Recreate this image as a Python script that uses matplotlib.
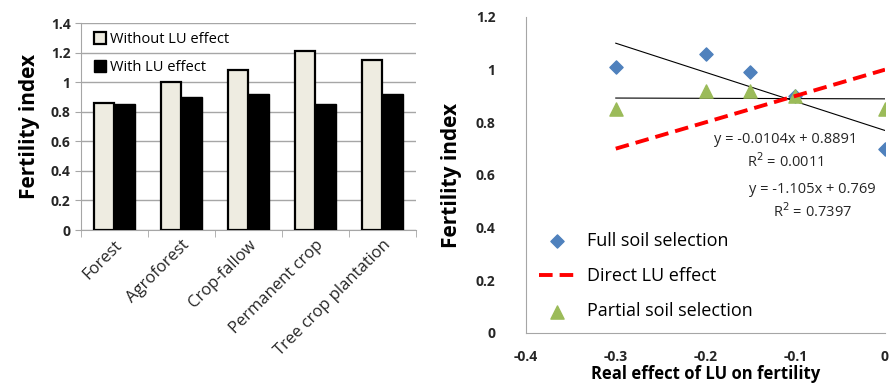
"""
Fertility index by land use (bars) and vs. real LU effect (scatter + trendlines).
"""

import matplotlib
matplotlib.use("Agg")
import matplotlib.pyplot as plt
import numpy as np

plt.rcParams['font.family'] = ['Open Sans', 'DejaVu Sans']

# left panel: fertility index per land use
land_uses = ["Forest", "Agroforest", "Crop-fallow", "Permanent crop", "Tree crop plantation"]
without_lu = [0.86, 1.00, 1.08, 1.21, 1.15]
with_lu = [0.85, 0.90, 0.92, 0.85, 0.92]

# right panel: fertility index vs. real LU effect
real_effect = [-0.3, -0.2, -0.15, -0.1, 0.0]
full_selection = [1.01, 1.06, 0.99, 0.90, 0.70]
partial_selection = [0.85, 0.92, 0.92, 0.90, 0.85]
direct_effect_x = [-0.3, 0.0]
direct_effect_y = [0.70, 1.00]

# trendline coefficients as printed on the chart (slope, intercept)
fit_full = (-1.105, 0.769)
fit_partial = (-0.0104, 0.8891)

AXIS_GRAY = '#a6a6a6'
TICK_COLOR = '#262626'

fig = plt.figure(figsize=(8.89, 3.88), dpi=100)

# ---------------- left: grouped bars ----------------
ax1 = fig.add_axes([0.0911, 0.4072, 0.3768, 0.5335])
idx = np.arange(len(land_uses))
w = 0.30
ax1.bar(idx - w / 2, without_lu, w, color='#eeece1', edgecolor='black',
        linewidth=1.6, label='Without LU effect', zorder=3)
ax1.bar(idx + w / 2, with_lu, w, color='black', edgecolor='black',
        linewidth=1.0, label='With LU effect', zorder=3)
ax1.set_xlim(-0.5, len(land_uses) - 0.5)
ax1.set_ylim(0, 1.4)
ax1.set_yticks(np.arange(0, 1.41, 0.2))
ax1.set_yticklabels(['0', '0.2', '0.4', '0.6', '0.8', '1', '1.2', '1.4'])
ax1.yaxis.grid(True, color=AXIS_GRAY, linewidth=1.0, zorder=0)
ax1.set_axisbelow(True)
for s in ['top', 'right']:
    ax1.spines[s].set_visible(False)
for s in ['left', 'bottom']:
    ax1.spines[s].set_color(AXIS_GRAY)
ax1.set_xticks(idx)
ax1.set_xticklabels(land_uses, rotation=45, ha='right', rotation_mode='anchor',
                    fontsize=12, color=TICK_COLOR)
ax1.tick_params(axis='x', length=0, pad=5)
ax1.set_xticks(np.arange(-0.5, len(land_uses)), minor=True)
ax1.tick_params(axis='x', which='minor', length=5, color=AXIS_GRAY)
ax1.tick_params(axis='y', length=4, color=AXIS_GRAY, labelsize=10,
                labelcolor=TICK_COLOR)
for lab in ax1.get_yticklabels():
    lab.set_fontweight('bold')
ax1.set_ylabel('Fertility index', fontsize=15, fontweight='bold', labelpad=8)
ax1.legend(loc='upper left', bbox_to_anchor=(0.0, 1.02), frameon=False,
           fontsize=10.5, handlelength=0.8, handleheight=0.8, handletextpad=0.3,
           labelspacing=0.9)

# ---------------- right: scatter with trendlines ----------------
ax2 = fig.add_axes([0.5917, 0.1418, 0.4038, 0.8144])
xs = np.array([min(real_effect), max(real_effect)])
ax2.plot(xs, fit_full[0] * xs + fit_full[1], color='black', linewidth=0.8, zorder=2)
ax2.plot(xs, fit_partial[0] * xs + fit_partial[1], color='black', linewidth=0.8, zorder=2)
ax2.scatter(real_effect, full_selection, marker='D', s=45, color='#4f81bd',
            label='Full soil selection', zorder=3)
ax2.plot(direct_effect_x, direct_effect_y, color='#ff0000', linestyle=(0, (3.5, 1.8)),
         linewidth=2.8, label='Direct LU effect', zorder=4)
ax2.scatter(real_effect, partial_selection, marker='^', s=90, color='#9bbb59',
            label='Partial soil selection', zorder=3)
ax2.set_xlim(-0.4, 0)
ax2.set_ylim(0, 1.2)
ax2.set_xticks([-0.4, -0.3, -0.2, -0.1, 0])
ax2.set_xticklabels(['-0.4', '-0.3', '-0.2', '-0.1', '0'])
ax2.set_yticks(np.arange(0, 1.21, 0.2))
ax2.set_yticklabels(['0', '0.2', '0.4', '0.6', '0.8', '1', '1.2'])
for s in ['top', 'right']:
    ax2.spines[s].set_visible(False)
for s in ['left', 'bottom']:
    ax2.spines[s].set_color(AXIS_GRAY)
ax2.tick_params(length=0, labelsize=10, labelcolor=TICK_COLOR)
ax2.tick_params(axis='y', pad=22)
ax2.tick_params(axis='x', pad=12)
for lab in ax2.get_xticklabels() + ax2.get_yticklabels():
    lab.set_fontweight('bold')
ax2.set_ylabel('Fertility index', fontsize=15, fontweight='bold', labelpad=10)
ax2.set_xlabel('Real effect of LU on fertility', fontsize=12, fontweight='bold',
               labelpad=1)

eq_kw = dict(fontsize=10.5, ha='center', va='center', color=TICK_COLOR)
ax2.text(-0.111, 0.734, 'y = -0.0104x + 0.8891', **eq_kw)
ax2.text(-0.111, 0.650, 'R$^2$ = 0.0011', **eq_kw)
ax2.text(-0.081, 0.544, 'y = -1.105x + 0.769', **eq_kw)
ax2.text(-0.081, 0.460, 'R$^2$ = 0.7397', **eq_kw)

ax2.legend(loc='lower left', bbox_to_anchor=(0.0, 0.0), frameon=False, fontsize=13,
           handlelength=2.0, handletextpad=0.7, labelspacing=0.95, scatterpoints=1,
           borderaxespad=0.3)

fig.savefig('out.png', dpi=100)
